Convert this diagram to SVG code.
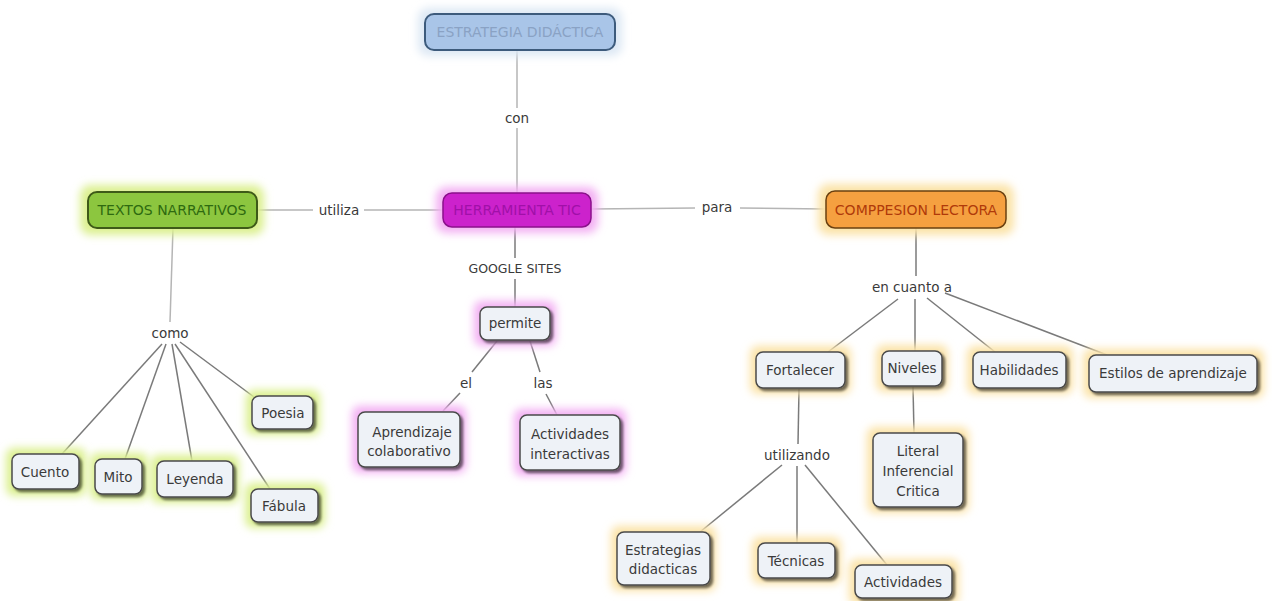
<svg xmlns="http://www.w3.org/2000/svg" width="1272" height="601" viewBox="0 0 1272 601">
<defs>
<style>
.t{font-family:"DejaVu Sans","Liberation Sans",sans-serif;font-size:13.5px;fill:#3a3a3a;text-anchor:middle;dominant-baseline:central}
.h{font-size:14px}
.lbl{font-family:"DejaVu Sans","Liberation Sans",sans-serif;font-size:13.5px;fill:#3a3a3a;text-anchor:middle;dominant-baseline:central}
.box{fill:#eef2f7;stroke:#4a4a4a;stroke-width:1.5;filter:url(#sh)}
.ln{stroke:#7a7a7a;stroke-width:1.5;fill:none}
.lt{stroke:#b5b5b5;stroke-width:1.5;fill:none}
.gg{fill:#dcf090;filter:url(#bl)}
.gp{fill:#f3b0f3;filter:url(#bl)}
.go{fill:#fbe3a8;filter:url(#bl)}
.gb{fill:#dde8f4;filter:url(#bl)}
</style>
<filter id="sh" x="-20%" y="-20%" width="140%" height="160%"><feDropShadow dx="2.5" dy="2.5" stdDeviation="1.2" flood-color="#000" flood-opacity="0.55"/></filter>
<filter id="bl" x="-30%" y="-50%" width="160%" height="200%"><feGaussianBlur stdDeviation="4"/></filter>
</defs>
<rect width="1272" height="601" fill="#ffffff"/>

<g id="connectors">
<line class="lt" x1="517" y1="50" x2="517" y2="108"/>
<line class="lt" x1="517" y1="128" x2="517" y2="193"/>
<line class="lt" x1="257" y1="210" x2="313" y2="210"/>
<line class="lt" x1="364" y1="210" x2="443" y2="210"/>
<line class="lt" x1="591" y1="209" x2="695" y2="208"/>
<line class="lt" x1="740" y1="208" x2="826" y2="209"/>
<line class="lt" x1="173" y1="228" x2="170" y2="322"/>
<line class="ln" x1="162" y1="344" x2="62" y2="454"/>
<line class="ln" x1="166" y1="344" x2="125" y2="459"/>
<line class="ln" x1="172" y1="344" x2="192" y2="461"/>
<line class="ln" x1="175" y1="344" x2="270" y2="489"/>
<line class="ln" x1="180" y1="342" x2="254" y2="397"/>
<line class="ln" x1="515" y1="227" x2="515" y2="258"/>
<line class="ln" x1="515" y1="279" x2="515" y2="307"/>
<line class="ln" x1="497" y1="341" x2="472" y2="372"/>
<line class="ln" x1="460" y1="393" x2="443" y2="411"/>
<line class="ln" x1="530" y1="341" x2="540" y2="372"/>
<line class="ln" x1="546" y1="394" x2="557" y2="415"/>
<line class="ln" x1="916" y1="228" x2="916" y2="276"/>
<line class="ln" x1="898" y1="299" x2="828" y2="352"/>
<line class="ln" x1="915" y1="299" x2="915" y2="351"/>
<line class="ln" x1="927" y1="298" x2="995" y2="352"/>
<line class="ln" x1="945" y1="293" x2="1107" y2="355"/>
<line class="ln" x1="799" y1="389" x2="798" y2="444"/>
<line class="ln" x1="913" y1="387" x2="914" y2="433"/>
<line class="ln" x1="782" y1="465" x2="700" y2="532"/>
<line class="ln" x1="797" y1="466" x2="797" y2="543"/>
<line class="ln" x1="805" y1="465" x2="887" y2="565"/>
</g>

<g id="labels">
<text class="lbl" x="517" y="118">con</text>
<text class="lbl" x="339" y="210">utiliza</text>
<text class="lbl" x="717" y="207">para</text>
<text class="lbl" x="170" y="333">como</text>
<text class="lbl" x="515" y="268" style="font-size:12.5px">GOOGLE SITES</text>
<text class="lbl" x="466" y="383">el</text>
<text class="lbl" x="543" y="383">las</text>
<text class="lbl" x="912" y="287">en cuanto a</text>
<text class="lbl" x="797" y="455">utilizando</text>
</g>

<g id="n-estrategia">
<rect class="gb" x="418" y="8" width="204" height="48" rx="10"/>
<rect x="425" y="14" width="190" height="36" rx="9" fill="#a9c5e8" stroke="#3d5b7c" stroke-width="2"/>
<text class="t h" x="520" y="32" style="fill:#8aa2c4">ESTRATEGIA DIDÁCTICA</text>
</g>

<g id="n-herramienta">
<rect class="gp" x="436" y="187" width="162" height="46" rx="10"/>
<rect x="443" y="193" width="148" height="34" rx="9" fill="#cc22cc" stroke="#8a108a" stroke-width="1.5"/>
<text class="t h" x="517" y="210" style="fill:#a010a8">HERRAMIENTA TIC</text>
</g>

<g id="n-textos">
<rect class="gg" x="80" y="185" width="184" height="50" rx="10"/>
<rect x="88" y="192" width="169" height="36" rx="9" fill="#8cc63f" stroke="#3e5a18" stroke-width="2"/>
<text class="t h" x="172" y="210" style="fill:#2e6a10">TEXTOS NARRATIVOS</text>
</g>

<g id="n-comprension">
<rect class="go" x="818" y="184" width="196" height="51" rx="10"/>
<rect x="826" y="191" width="180" height="37" rx="9" fill="#f5a040" stroke="#6a4010" stroke-width="1.5"/>
<text class="t h" x="916" y="210" style="fill:#b03a0a">COMPPESION LECTORA</text>
</g>

<g id="n-cuento">
<rect class="gg" x="6" y="448" width="80" height="48" rx="8"/>
<rect class="box" x="12" y="454" width="67" height="35" rx="7"/>
<text class="t" x="45" y="472">Cuento</text>
</g>
<g id="n-mito">
<rect class="gg" x="90" y="453" width="58" height="47" rx="8"/>
<rect class="box" x="95" y="459" width="47" height="35" rx="7"/>
<text class="t" x="118" y="477">Mito</text>
</g>
<g id="n-leyenda">
<rect class="gg" x="151" y="455" width="88" height="48" rx="8"/>
<rect class="box" x="157" y="461" width="76" height="36" rx="7"/>
<text class="t" x="195" y="479">Leyenda</text>
</g>
<g id="n-fabula">
<rect class="gg" x="245" y="483" width="80" height="45" rx="8"/>
<rect class="box" x="251" y="489" width="67" height="33" rx="7"/>
<text class="t" x="284" y="506">Fábula</text>
</g>
<g id="n-poesia">
<rect class="gg" x="246" y="390" width="74" height="45" rx="8"/>
<rect class="box" x="252" y="396" width="61" height="33" rx="7"/>
<text class="t" x="283" y="413">Poesia</text>
</g>

<g id="n-permite">
<rect class="gp" x="474" y="301" width="82" height="45" rx="8"/>
<rect class="box" x="480" y="307" width="70" height="33" rx="7"/>
<text class="t" x="515" y="323">permite</text>
</g>
<g id="n-aprendizaje">
<rect class="gp" x="352" y="406" width="114" height="67" rx="8"/>
<rect class="box" x="358" y="412" width="102" height="55" rx="7"/>
<text class="t" x="412" y="432">Aprendizaje</text>
<text class="t" x="409" y="451">colaborativo</text>
</g>
<g id="n-actividades-int">
<rect class="gp" x="514" y="409" width="112" height="67" rx="8"/>
<rect class="box" x="520" y="415" width="100" height="55" rx="7"/>
<text class="t" x="570" y="434">Actividades</text>
<text class="t" x="570" y="454">interactivas</text>
</g>

<g id="n-fortalecer">
<rect class="go" x="750" y="346" width="101" height="48" rx="8"/>
<rect class="box" x="756" y="352" width="89" height="36" rx="7"/>
<text class="t" x="800" y="370">Fortalecer</text>
</g>
<g id="n-niveles">
<rect class="go" x="876" y="345" width="72" height="47" rx="8"/>
<rect class="box" x="882" y="351" width="60" height="35" rx="7"/>
<text class="t" x="912" y="368">Niveles</text>
</g>
<g id="n-habilidades">
<rect class="go" x="967" y="346" width="106" height="48" rx="8"/>
<rect class="box" x="973" y="352" width="93" height="36" rx="7"/>
<text class="t" x="1019" y="370">Habilidades</text>
</g>
<g id="n-estilos">
<rect class="go" x="1083" y="349" width="181" height="49" rx="8"/>
<rect class="box" x="1089" y="355" width="168" height="37" rx="7"/>
<text class="t" x="1173" y="373">Estilos de aprendizaje</text>
</g>
<g id="n-literal">
<rect class="go" x="867" y="427" width="102" height="86" rx="8"/>
<rect class="box" x="873" y="433" width="90" height="74" rx="7"/>
<text class="t" x="918" y="451">Literal</text>
<text class="t" x="918" y="471">Inferencial</text>
<text class="t" x="918" y="491">Critica</text>
</g>
<g id="n-estrategias">
<rect class="go" x="611" y="526" width="105" height="65" rx="8"/>
<rect class="box" x="617" y="532" width="93" height="53" rx="7"/>
<text class="t" x="663" y="550">Estrategias</text>
<text class="t" x="663" y="569">didacticas</text>
</g>
<g id="n-tecnicas">
<rect class="go" x="752" y="537" width="89" height="47" rx="8"/>
<rect class="box" x="758" y="543" width="77" height="35" rx="7"/>
<text class="t" x="796" y="561">Técnicas</text>
</g>
<g id="n-actividades">
<rect class="go" x="849" y="559" width="110" height="46" rx="8"/>
<rect class="box" x="855" y="565" width="97" height="33" rx="7"/>
<text class="t" x="903" y="582">Actividades</text>
</g>
</svg>
